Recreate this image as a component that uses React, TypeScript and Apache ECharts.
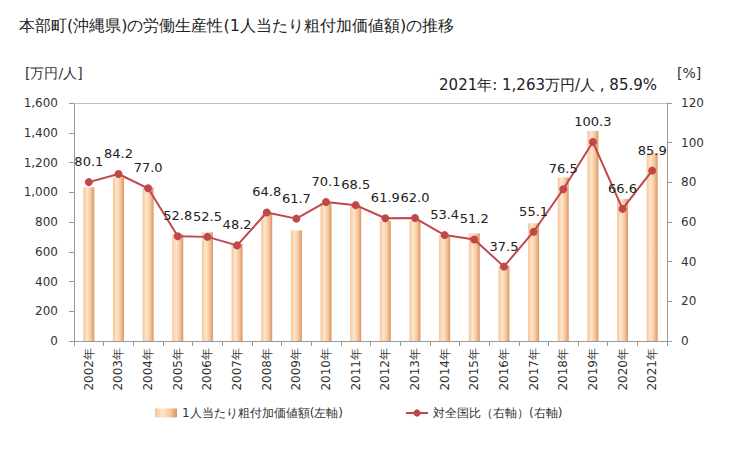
import React, { useEffect, useRef } from "react";
import * as echarts from "echarts";

const categories = ["2002年","2003年","2004年","2005年","2006年","2007年","2008年","2009年","2010年","2011年","2012年","2013年","2014年","2015年","2016年","2017年","2018年","2019年","2020年","2021年"];
const productivity = [1033, 1100, 1032, 717, 731, 652, 852, 744, 926, 910, 809, 807, 713, 724, 505, 791, 1100, 1412, 955, 1263];
const ratio = [80.1, 84.2, 77.0, 52.8, 52.5, 48.2, 64.8, 61.7, 70.1, 68.5, 61.9, 62.0, 53.4, 51.2, 37.5, 55.1, 76.5, 100.3, 66.6, 85.9];
const leftTicks = { min: 0, max: 1600, interval: 200 };
const rightTicks = { min: 0, max: 120, interval: 20 };

const FONT = "'DejaVu Sans', Verdana, sans-serif";

export default function App() {
  const ref = useRef<HTMLDivElement>(null);
  useEffect(() => {
    if (!ref.current) return;
    const chart = echarts.init(ref.current, null, { renderer: "svg" });
    const barGrad = new echarts.graphic.LinearGradient(0, 0, 1, 0, [
      { offset: 0, color: "#f6c59a" },
      { offset: 0.35, color: "#fee6cc" },
      { offset: 0.7, color: "#f6c59b" },
      { offset: 1, color: "#d99464" },
    ]);
    chart.setOption({
      animation: false,
      backgroundColor: "#ffffff",
      textStyle: { fontFamily: FONT },
      title: {
        text: "本部町(沖縄県)の労働生産性(1人当たり粗付加価値額)の推移",
        left: 14,
        top: 12,
        textStyle: { fontSize: 16, fontWeight: "normal", color: "#222", fontFamily: FONT },
      },
      graphic: [
        { type: "text", left: 25, top: 66, style: { text: "[万円/人]", fontSize: 14, fill: "#333", fontFamily: FONT } },
        { type: "text", left: 677, top: 66, style: { text: "[%]", fontSize: 14, fill: "#333", fontFamily: FONT } },
        { type: "text", right: 72, top: 77, style: { text: "2021年: 1,263万円/人 , 85.9%", fontSize: 15, fill: "#222", fontFamily: FONT } },
      ],
      legend: {
        bottom: 26,
        left: 150,
        itemGap: 62,
        itemWidth: 22,
        itemHeight: 9,
        textStyle: { fontSize: 12, color: "#333", fontFamily: FONT },
        data: [
          { name: "1人当たり粗付加価値額(左軸)", icon: "rect" },
          { name: "対全国比（右軸）(右軸)" },
        ],
      },
      grid: { left: 74, right: 62, top: 103, bottom: 109, containLabel: false },
      xAxis: {
        type: "category",
        data: categories,
        axisLine: { lineStyle: { color: "#999" } },
        axisTick: { show: true, alignWithLabel: false, lineStyle: { color: "#999" } },
        axisLabel: { rotate: 90, fontSize: 12, color: "#333", interval: 0, margin: 7, fontFamily: FONT },
      },
      yAxis: [
        {
          type: "value",
          min: leftTicks.min,
          max: leftTicks.max,
          interval: leftTicks.interval,
          axisLine: { show: true, lineStyle: { color: "#999" } },
          axisTick: { show: true, lineStyle: { color: "#999" } },
          splitLine: { show: false },
          axisLabel: {
            fontSize: 12,
            color: "#333",
            margin: 16,
            fontFamily: FONT,
            formatter: (v: number) => v.toLocaleString("en-US"),
          },
        },
        {
          type: "value",
          min: rightTicks.min,
          max: rightTicks.max,
          interval: rightTicks.interval,
          axisLine: { show: true, lineStyle: { color: "#999" } },
          axisTick: { show: true, lineStyle: { color: "#999" } },
          splitLine: { show: false },
          axisLabel: { fontSize: 12, color: "#333", margin: 14, fontFamily: FONT },
        },
      ],
      series: [
        {
          name: "1人当たり粗付加価値額(左軸)",
          type: "bar",
          yAxisIndex: 0,
          data: productivity,
          barWidth: 11,
          itemStyle: { color: barGrad },
          markLine: {
            silent: true,
            symbol: "none",
            label: { show: false },
            lineStyle: { color: "#c8bea4", type: "solid", width: 1.2 },
            data: [{ yAxis: 1600 }],
          },
        },
        {
          name: "対全国比（右軸）(右軸)",
          type: "line",
          yAxisIndex: 1,
          data: ratio,
          symbol: "circle",
          symbolSize: 8,
          itemStyle: { color: "#c0474a" },
          lineStyle: { color: "#c0474a", width: 2 },
          label: {
            show: true,
            position: "top",
            distance: 10,
            fontSize: 13,
            color: "#222",
            fontFamily: FONT,
            formatter: (p: any) => Number(p.value).toFixed(1),
          },
        },
      ],
    });
    return () => chart.dispose();
  }, []);
  return <div ref={ref} style={{ width: 729, height: 450, position: "absolute", left: 0, top: 0 }} />;
}
